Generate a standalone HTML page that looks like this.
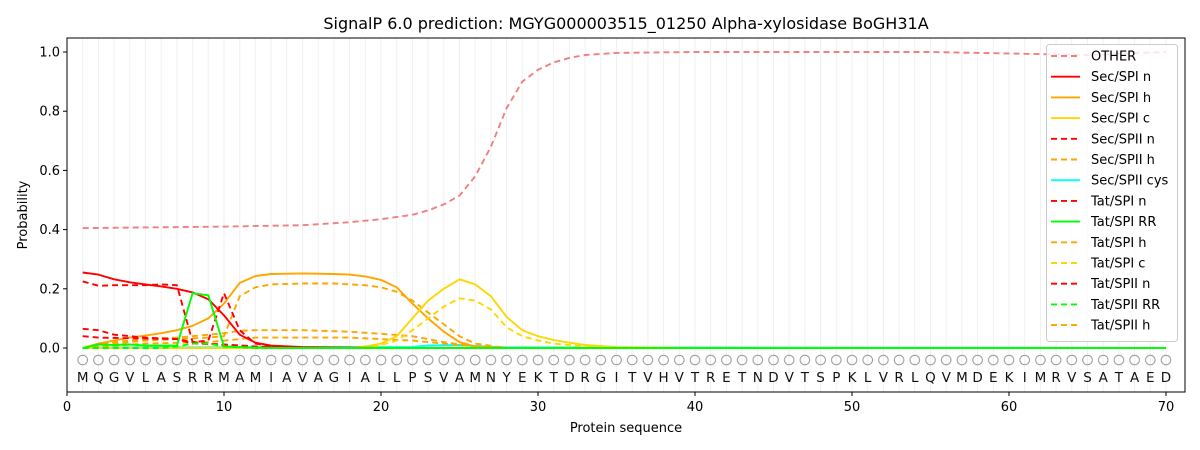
<!DOCTYPE html>
<html><head><meta charset="utf-8"><style>body{margin:0;background:#fff}svg{display:block}text{font-family:"DejaVu Sans","Liberation Sans",sans-serif}</style></head>
<body>
<svg width="1200" height="450" viewBox="0 0 1200 450">
<defs>
<pattern id="g" x="82.2" y="0" width="15.7" height="450" patternUnits="userSpaceOnUse"><rect x="0" y="0" width="1" height="450" fill="#f0f0f0"/></pattern>
<pattern id="c" x="75.7" y="353" width="15.7" height="14" patternUnits="userSpaceOnUse"><circle cx="7" cy="7" r="4.8" fill="none" stroke="#999" stroke-width="1"/></pattern>
</defs>
<rect x="82" y="38" width="1085" height="354" fill="url(#g)"/>
<rect x="75" y="353" width="1099" height="14" fill="url(#c)"/>
<text font-size="13.5" fill="#111" text-anchor="middle" y="382" x="82.7 98.4 114.1 129.8 145.5 161.2 176.9 192.6 208.3 224 239.7 255.4 271.1 286.8 302.5 318.2 333.9 349.6 365.3 381 396.7 412.4 428.1 443.8 459.5 475.2 490.9 506.6 522.3 538 553.7 569.4 585.1 600.8 616.5 632.2 647.9 663.6 679.3 695 710.7 726.4 742.1 757.8 773.5 789.2 804.9 820.6 836.3 852 867.7 883.4 899.1 914.8 930.5 946.2 961.9 977.6 993.3 1009 1024.7 1040.4 1056.1 1071.8 1087.5 1103.2 1118.9 1134.6 1150.3 1166">MQGVLASRRMAMIAVAGIALLPSVAMNYEKTDRGITVHVTRETNDVTSPKLVRLQVMDEKIMRVSATAED</text>
<g fill="none" stroke-width="1.9" stroke-linejoin="round">
<polyline stroke="cyan" points="82.7,347.5 412.4,347 428.1,345.5 459.5,345 475.2,346 506.6,347.5 1166,348"/>
<polyline stroke="#f08080" stroke-dasharray="6,4" points="82.7,228.1 224,226.6 302.5,225.2 349.6,222.2 381,219.2 412.4,214.8 428.1,210.4 443.8,204.4 459.5,195.6 475.2,176.3 490.9,146.7 506.6,108.2 522.3,81.6 538,69.8 553.7,62.4 569.4,57.9 585.1,55 616.5,52.9 695,52 930.5,52 1040.4,54.1 1087.5,55 1166,52"/>
<polyline stroke="orange" stroke-dasharray="6,4" points="82.7,348 114.1,342.1 145.5,339.1 176.9,337.6 208.3,334.7 224,333.2 239.7,330.8 255.4,330.2 302.5,330.2 349.6,331.7 381,333.8 412.4,336.2 443.8,342.1 475.2,346.5 506.6,348 1166,348"/>
<polyline stroke="orange" stroke-dasharray="6,4" points="82.7,348 145.5,343.6 208.3,342.1 239.7,339.1 255.4,337.6 349.6,337.6 381,339.1 412.4,340.6 443.8,343.6 475.2,346.5 506.6,348 1166,348"/>
<polyline stroke="orange" stroke-dasharray="6,4" points="82.7,348 114.1,343.6 145.5,340.6 176.9,339.1 208.3,337.6 224,336.2 239.7,296.2 255.4,287.3 271.1,284.4 302.5,283.5 333.9,283.5 365.3,285.2 381,287.3 396.7,291.8 412.4,300.6 428.1,312.5 443.8,324.3 459.5,336.2 475.2,343.6 506.6,348 1166,348"/>
<polyline stroke="orange" points="82.7,348 98.4,343.6 114.1,340.6 129.8,337.6 145.5,335.6 161.2,333.2 176.9,330.2 192.6,325.8 208.3,318.4 224,303.6 239.7,282.9 255.4,276.1 271.1,274 302.5,273.4 333.9,274 349.6,274.6 365.3,276.4 381,279.9 396.7,287.3 412.4,303.6 428.1,318.4 443.8,331.7 459.5,342.1 475.2,346.5 506.6,348 1166,348"/>
<polyline stroke="gold" stroke-dasharray="6,4" points="82.7,348 365.3,348 381,345 396.7,340.6 412.4,330.2 428.1,318.4 443.8,306.6 459.5,298.3 475.2,300.6 490.9,309.5 506.6,327.3 522.3,336.2 538,340.6 553.7,343.6 585.1,346.5 632.2,348 1166,348"/>
<polyline stroke="gold" points="82.7,348 349.6,348 365.3,346.5 381,343.6 396.7,336.2 412.4,318.4 428.1,300.6 443.8,288.8 459.5,279.3 475.2,284.4 490.9,296.2 506.6,316.9 522.3,330.2 538,336.2 553.7,340 569.4,342.7 585.1,345 616.5,347.1 695,348 1166,348"/>
<polyline stroke="red" stroke-dasharray="6,4" points="82.7,336.2 98.4,337.6 129.8,338.2 176.9,339.1 192.6,343.6 224,344.4 255.4,346.5 302.5,348 1166,348"/>
<polyline stroke="red" stroke-dasharray="6,4" points="82.7,328.8 98.4,330.2 114.1,334.7 145.5,337.6 176.9,339.1 192.6,342.1 224,345 255.4,346.5 302.5,348 1166,348"/>
<polyline stroke="red" stroke-dasharray="6,4" points="82.7,281.4 98.4,285.8 114.1,285.2 145.5,285.2 161.2,284.4 176.9,285.2 192.6,342.1 208.3,340.6 224,293.2 239.7,330.2 255.4,343.6 271.1,346.5 302.5,348 1166,348"/>
<polyline stroke="red" points="82.7,272.5 98.4,274.6 114.1,279.3 129.8,282.3 145.5,284.4 161.2,286.4 176.9,288.8 192.6,292.4 208.3,299.2 224,315.4 239.7,334.7 255.4,342.7 271.1,345.6 302.5,347.1 381,348 1166,348"/>
<polyline stroke="lime" stroke-dasharray="6,4" points="82.7,348 161.2,348 176.9,346.5 192.6,343.6 208.3,343.6 224,346.5 255.4,348 1166,348"/>
<polyline stroke="lime" points="82.7,348 98.4,344.4 114.1,345 129.8,344.4 145.5,345.6 176.9,345.6 192.6,293.2 208.3,295.3 224,346.5 239.7,347.1 271.1,348 1166,348"/>
</g>
<rect x="67" y="38" width="1118" height="354" fill="none" stroke="#000" stroke-width="1"/>
<g stroke="#000" stroke-width="1">
<line x1="67" y1="392" x2="67" y2="396"/><line x1="224" y1="392" x2="224" y2="396"/><line x1="381" y1="392" x2="381" y2="396"/><line x1="538" y1="392" x2="538" y2="396"/><line x1="695" y1="392" x2="695" y2="396"/><line x1="852" y1="392" x2="852" y2="396"/><line x1="1009" y1="392" x2="1009" y2="396"/><line x1="1166" y1="392" x2="1166" y2="396"/>
<line x1="63" y1="348" x2="67" y2="348"/><line x1="63" y1="288.8" x2="67" y2="288.8"/><line x1="63" y1="229.6" x2="67" y2="229.6"/><line x1="63" y1="170.4" x2="67" y2="170.4"/><line x1="63" y1="111.2" x2="67" y2="111.2"/><line x1="63" y1="52" x2="67" y2="52"/>
</g>
<g font-size="13" fill="#000" text-anchor="middle">
<text x="67" y="411">0</text><text x="224" y="411">10</text><text x="381" y="411">20</text><text x="538" y="411">30</text><text x="695" y="411">40</text><text x="852" y="411">50</text><text x="1009" y="411">60</text><text x="1166" y="411">70</text>
</g>
<g font-size="13" fill="#000" text-anchor="end">
<text x="60" y="352.5">0.0</text><text x="60" y="293.3">0.2</text><text x="60" y="234.1">0.4</text><text x="60" y="174.9">0.6</text><text x="60" y="115.7">0.8</text><text x="60" y="56.5">1.0</text>
</g>
<text x="626" y="432" font-size="13" text-anchor="middle">Protein sequence</text>
<text x="27" y="215" font-size="13" text-anchor="middle" transform="rotate(-90 27 215)">Probability</text>
<text x="626" y="29" font-size="16" text-anchor="middle">SignalP 6.0 prediction: MGYG000003515_01250 Alpha-xylosidase BoGH31A</text>
<rect x="1046.5" y="44.5" width="131" height="297" rx="3" fill="#fff" fill-opacity="0.8" stroke="#ccc"/>
<g stroke-width="1.9">
<line x1="1051" y1="56" x2="1080" y2="56" stroke="#f08080" stroke-dasharray="6,4"/>
<line x1="1051" y1="76.7" x2="1080" y2="76.7" stroke="red"/>
<line x1="1051" y1="97.4" x2="1080" y2="97.4" stroke="orange"/>
<line x1="1051" y1="118.1" x2="1080" y2="118.1" stroke="gold"/>
<line x1="1051" y1="138.8" x2="1080" y2="138.8" stroke="red" stroke-dasharray="6,4"/>
<line x1="1051" y1="159.5" x2="1080" y2="159.5" stroke="orange" stroke-dasharray="6,4"/>
<line x1="1051" y1="180.2" x2="1080" y2="180.2" stroke="cyan"/>
<line x1="1051" y1="200.9" x2="1080" y2="200.9" stroke="red" stroke-dasharray="6,4"/>
<line x1="1051" y1="221.6" x2="1080" y2="221.6" stroke="lime"/>
<line x1="1051" y1="242.3" x2="1080" y2="242.3" stroke="orange" stroke-dasharray="6,4"/>
<line x1="1051" y1="263" x2="1080" y2="263" stroke="gold" stroke-dasharray="6,4"/>
<line x1="1051" y1="283.7" x2="1080" y2="283.7" stroke="red" stroke-dasharray="6,4"/>
<line x1="1051" y1="304.4" x2="1080" y2="304.4" stroke="lime" stroke-dasharray="6,4"/>
<line x1="1051" y1="325.1" x2="1080" y2="325.1" stroke="orange" stroke-dasharray="6,4"/>
</g>
<g font-size="13" fill="#000">
<text x="1091" y="60.5">OTHER</text><text x="1091" y="81.2">Sec/SPI n</text><text x="1091" y="101.9">Sec/SPI h</text><text x="1091" y="122.6">Sec/SPI c</text><text x="1091" y="143.3">Sec/SPII n</text><text x="1091" y="164">Sec/SPII h</text><text x="1091" y="184.7">Sec/SPII cys</text><text x="1091" y="205.4">Tat/SPI n</text><text x="1091" y="226.1">Tat/SPI RR</text><text x="1091" y="246.8">Tat/SPI h</text><text x="1091" y="267.5">Tat/SPI c</text><text x="1091" y="288.2">Tat/SPII n</text><text x="1091" y="308.9">Tat/SPII RR</text><text x="1091" y="329.6">Tat/SPII h</text>
</g>
</svg>
</body></html>
